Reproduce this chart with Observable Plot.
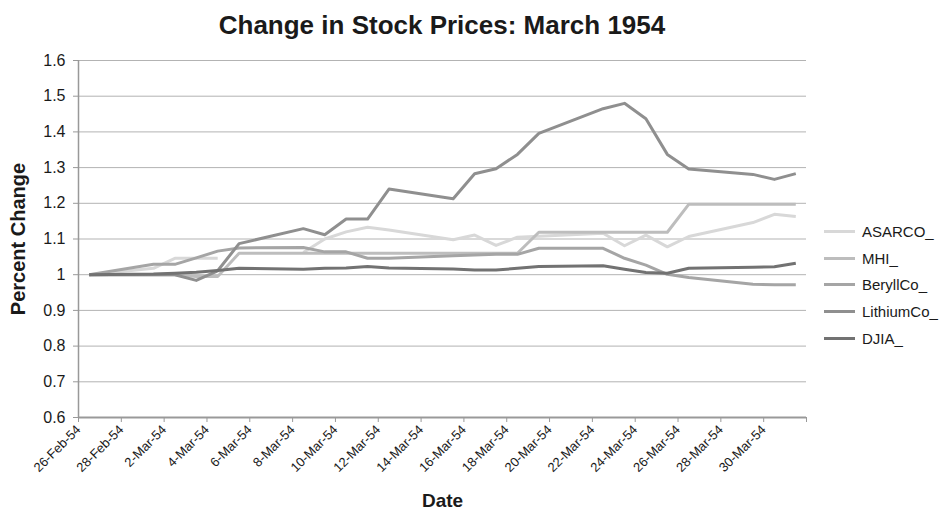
<!DOCTYPE html>
<html>
<head>
<meta charset="utf-8">
<script src="https://cdn.jsdelivr.net/npm/d3@7"></script>
<script src="https://cdn.jsdelivr.net/npm/@observablehq/plot@0.6"></script>
<style>
  body { margin: 0; background: #fff; font-family: "Liberation Sans", Arial, sans-serif; }
  #wrap { position: relative; width: 943px; height: 512px; overflow: hidden; }
  #title { position: absolute; left: 0; top: 12px; width: 884px; text-align: center;
           font-size: 26px; font-weight: bold; line-height: 26px; color: #1a1a1a; }
  #legend { position: absolute; left: 824px; top: 218px; }
  .row { display: flex; align-items: center; height: 26.8px; }
  .sw { width: 31px; height: 3px; margin-right: 7px; }
  .lab { font-size: 15px; color: #1a1a1a; }
</style>
</head>
<body>
<div id="wrap">
  <div id="chart"></div>
  <div id="title">Change in Stock Prices: March 1954</div>
  <div id="legend"></div>
</div>
<script>
const dates = ["1954-02-26","1954-03-01","1954-03-02","1954-03-03","1954-03-04","1954-03-05",
  "1954-03-08","1954-03-09","1954-03-10","1954-03-11","1954-03-12",
  "1954-03-15","1954-03-16","1954-03-17","1954-03-18","1954-03-19",
  "1954-03-22","1954-03-23","1954-03-24","1954-03-25","1954-03-26",
  "1954-03-29","1954-03-30","1954-03-31"];

const seriesNames = ["ASARCO_", "MHI_", "BeryllCo_", "LithiumCo_", "DJIA_"];
const seriesColors = ["#d8d8d8", "#bdbdbd", "#a5a5a5", "#8f8f8f", "#727272"];

const asarco = [1.000, 1.018, 1.046, 1.046, 1.046, null, 1.062, 1.100, 1.120, 1.133, 1.125,
  1.098, 1.111, 1.082, 1.105, 1.108, 1.116, 1.081, 1.111, 1.078, 1.107, 1.146, 1.169, 1.163];
const mhi = [1.000, 1.000, 1.000, 0.995, 0.995, 1.060, 1.060, 1.060, 1.060, 1.060, 1.060,
  1.060, 1.060, 1.060, 1.060, 1.119, 1.119, 1.119, 1.119, 1.119, 1.197, 1.197, 1.197, 1.197];
const beryllco = [1.000, 1.029, 1.029, 1.047, 1.066, 1.075, 1.076, 1.064, 1.064, 1.046, 1.046,
  1.053, 1.055, 1.057, 1.057, 1.074, 1.074, 1.046, 1.027, 1.001, 0.992, 0.973, 0.972, 0.972];
const lithiumco = [1.000, 1.000, 1.000, 0.984, 1.011, 1.087, 1.129, 1.112, 1.156, 1.156, 1.240,
  1.213, 1.283, 1.297, 1.337, 1.396, 1.465, 1.480, 1.437, 1.337, 1.296, 1.281, 1.267, 1.283];
const djia = [1.000, 1.002, 1.004, 1.007, 1.012, 1.018, 1.015, 1.018, 1.019, 1.023, 1.019,
  1.016, 1.013, 1.013, 1.018, 1.023, 1.025, 1.015, 1.006, 1.004, 1.018, 1.021, 1.022, 1.032];

const tickDates = ["1954-02-26","1954-02-28","1954-03-02","1954-03-04","1954-03-06","1954-03-08",
  "1954-03-10","1954-03-12","1954-03-14","1954-03-16","1954-03-18","1954-03-20","1954-03-22",
  "1954-03-24","1954-03-26","1954-03-28","1954-03-30"];
const axisStart = "1954-02-26";
const axisEnd = "1954-04-01";
const yTicks = [0.6, 0.7, 0.8, 0.9, 1.0, 1.1, 1.2, 1.3, 1.4, 1.5, 1.6];

const allValues = [asarco, mhi, beryllco, lithiumco, djia];
const parse = d3.utcParse("%Y-%m-%d");
const fmt = d3.utcFormat("%-d-%b-%y");
const start = parse(axisStart), end = parse(axisEnd);

const data = [];
seriesNames.forEach((name, i) => {
  dates.forEach((d, j) => {
    // Excel date axis: each day's point sits at the middle of its day slot
    data.push({series: name, date: d3.utcHour.offset(parse(d), 12), value: allValues[i][j]});
  });
});

const ticks = tickDates.map(parse).concat([end]);
const font = '"Liberation Sans", Arial, sans-serif';

const chart = Plot.plot({
  width: 943,
  height: 512,
  marginLeft: 78,
  marginRight: 137,
  marginTop: 60,
  marginBottom: 95,
  style: {fontFamily: font, background: "#fff", color: "#1a1a1a"},
  x: {type: "utc", domain: [start, end]},
  y: {domain: [0.6, 1.6]},
  color: {domain: seriesNames, range: seriesColors},
  marks: [
    Plot.gridY(yTicks, {stroke: "#b3b3b3", strokeOpacity: 1, strokeWidth: 1}),
    Plot.axisY(yTicks, {
      tickSize: 5, tickPadding: 8, fontSize: 16, stroke: "#999",
      tickFormat: d => String(+d.toFixed(1)), label: null
    }),
    Plot.axisX(ticks, {
      tickSize: 5, tickPadding: 5, fontSize: 13, stroke: "#999", tickRotate: -45,
      tickFormat: d => (+d === +end ? "" : fmt(d)), label: null
    }),
    Plot.ruleX([start], {stroke: "#999", strokeWidth: 1.5}),
    Plot.ruleY([0.6], {stroke: "#999", strokeWidth: 2}),
    Plot.line(data, {
      x: "date", y: "value", z: "series", stroke: "series",
      strokeWidth: 3, strokeLinejoin: "round", strokeLinecap: "butt"
    }),
    Plot.text(["Percent Change"], {
      frameAnchor: "left", rotate: -90, dx: -60, textAnchor: "middle", lineAnchor: "middle",
      fontSize: 20, fontWeight: "bold", fill: "#1a1a1a"
    }),
    Plot.text(["Date"], {
      frameAnchor: "bottom", dy: 83, textAnchor: "middle", lineAnchor: "middle",
      fontSize: 19, fontWeight: "bold", fill: "#1a1a1a"
    })
  ]
});
document.getElementById("chart").appendChild(chart);

const legend = document.getElementById("legend");
seriesNames.forEach((name, i) => {
  const row = document.createElement("div");
  row.className = "row";
  row.innerHTML = `<div class="sw" style="background:${seriesColors[i]}"></div><span class="lab">${name}</span>`;
  legend.appendChild(row);
});
</script>
</body>
</html>
